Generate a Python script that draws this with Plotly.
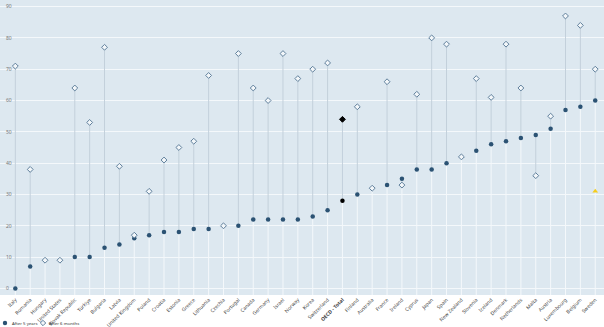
import plotly.graph_objects as go

countries = ["Italy", "Romania", "Hungary", "United States", "Slovak Republic", "Türkiye",
             "Bulgaria", "Latvia", "United Kingdom", "Poland", "Croatia", "Estonia", "Greece",
             "Lithuania", "Czechia", "Portugal", "Canada", "Germany", "Israel", "Norway",
             "Korea", "Switzerland", "OECD - Total", "Finland", "Australia", "France",
             "Ireland", "Cyprus", "Japan", "Spain", "New Zealand", "Slovenia", "Iceland",
             "Denmark", "Netherlands", "Malta", "Austria", "Luxembourg", "Belgium", "Sweden"]

after_5_years = [0, 7, None, None, 10, 10, 13, 14, 16, 17, 18, 18, 19, 19, None, 20, 22, 22,
                 22, 22, 23, 25, 28, 30, None, 33, 35, 38, 38, 40, None, 44, 46, 47, 48, 49,
                 51, 57, 58, 60]

after_6_months = [71, 38, 9, 9, 64, 53, 77, 39, 17, 31, 41, 45, 47, 68, 20, 75, 64, 60, 75,
                  67, 70, 72, 54, 58, 32, 66, 33, 62, 80, 78, 42, 67, 61, 78, 64, 36, 55, 87,
                  84, 70]

extra_country = ["Sweden"]
extra_value = [31]

y_ticks = [0, 10, 20, 30, 40, 50, 60, 70, 80, 90]
y_range = [-2.1, 92.1]

series_names = ["After 5 years", "After 6 months"]

W, H, B = 604, 327, 32
PH = H - B

bg = "#dde8f0"
dot_color = "#2b5273"
dia_fill = "#f3f7fa"
dia_line = "#5f7f9b"

# connector lines
wx, wy, gx, gy = [], [], [], []
for c, a, b in zip(countries, after_5_years, after_6_months):
    vals = [v for v in (a, b) if v is not None]
    lo, hi = min(vals), max(vals)
    wx += [c, c, None]
    wy += [y_range[0], lo, None]
    if hi > lo:
        gx += [c, c, None]
        gy += [lo, hi, None]

fig = go.Figure()
fig.add_trace(go.Scatter(x=wx, y=wy, mode="lines", line=dict(color="#f4f8fb", width=1),
                         showlegend=False, hoverinfo="skip"))
fig.add_trace(go.Scatter(x=gx, y=gy, mode="lines", line=dict(color="#c3d0db", width=1),
                         showlegend=False, hoverinfo="skip"))

oecd = [c == "OECD - Total" for c in countries]
fig.add_trace(go.Scatter(
    x=countries, y=after_5_years, mode="markers", name=series_names[0], showlegend=False,
    marker=dict(symbol="circle", size=4.5,
                color=["#000000" if o else dot_color for o in oecd],
                line=dict(width=0))))
fig.add_trace(go.Scatter(
    x=countries, y=after_6_months, mode="markers", name=series_names[1], showlegend=False,
    marker=dict(symbol="diamond", size=4.5,
                color=["#000000" if o else dia_fill for o in oecd],
                line=dict(width=1, color=["#000000" if o else dia_line for o in oecd]))))
fig.add_trace(go.Scatter(
    x=extra_country, y=extra_value, mode="markers", showlegend=False,
    marker=dict(symbol="triangle-up", size=5, color="#f5cc1b", line=dict(width=0))))

ticktext = ["<b>" + c + "</b>" if c == "OECD - Total" else c for c in countries]

# compact legend drawn below the plot (paper coordinates)
def px(x):
    return x / W

def py(y):
    return (PH - y) / PH

ly = 323
r = 2.2
d = 2.7
dx = 43
shapes = [
    dict(type="circle", xref="paper", yref="paper",
         x0=px(5 - r), x1=px(5 + r), y0=py(ly + r), y1=py(ly - r),
         fillcolor=dot_color, line=dict(width=0)),
    dict(type="path", xref="paper", yref="paper",
         path=(f"M {px(dx - d)} {py(ly)} L {px(dx)} {py(ly - d)} "
               f"L {px(dx + d)} {py(ly)} L {px(dx)} {py(ly + d)} Z"),
         fillcolor=dia_fill, line=dict(width=1, color=dia_line)),
]
annotations = [
    dict(text=series_names[0], xref="paper", yref="paper", x=px(9.5), y=py(ly),
         xanchor="left", yanchor="middle", showarrow=False,
         font=dict(size=4.3, color="#333")),
    dict(text=series_names[1], xref="paper", yref="paper", x=px(47), y=py(ly),
         xanchor="left", yanchor="middle", showarrow=False,
         font=dict(size=4.3, color="#333")),
]

fig.update_layout(
    width=W, height=H,
    margin=dict(l=0, r=0, t=0, b=B, autoexpand=False),
    plot_bgcolor=bg, paper_bgcolor="white",
    font=dict(family="Noto Sans", size=5, color="#444"),
    showlegend=False,
    shapes=shapes, annotations=annotations,
    xaxis=dict(type="category", categoryorder="array", categoryarray=countries,
               range=[-1.03, 39.59], tickmode="array", tickvals=countries, ticktext=ticktext,
               tickangle=-45, tickfont=dict(size=5, color="#444"), showgrid=False,
               zeroline=False, showline=False, ticks="", automargin=False),
    yaxis=dict(range=y_range, tickvals=y_ticks, ticklabelposition="inside",
               ticklabelstandoff=3,
               tickfont=dict(size=5, color="#777"), showgrid=True, gridcolor="#f4f8fb",
               gridwidth=1, zeroline=False, showline=False, ticks="", automargin=False),
)

fig.write_html("out.html")
